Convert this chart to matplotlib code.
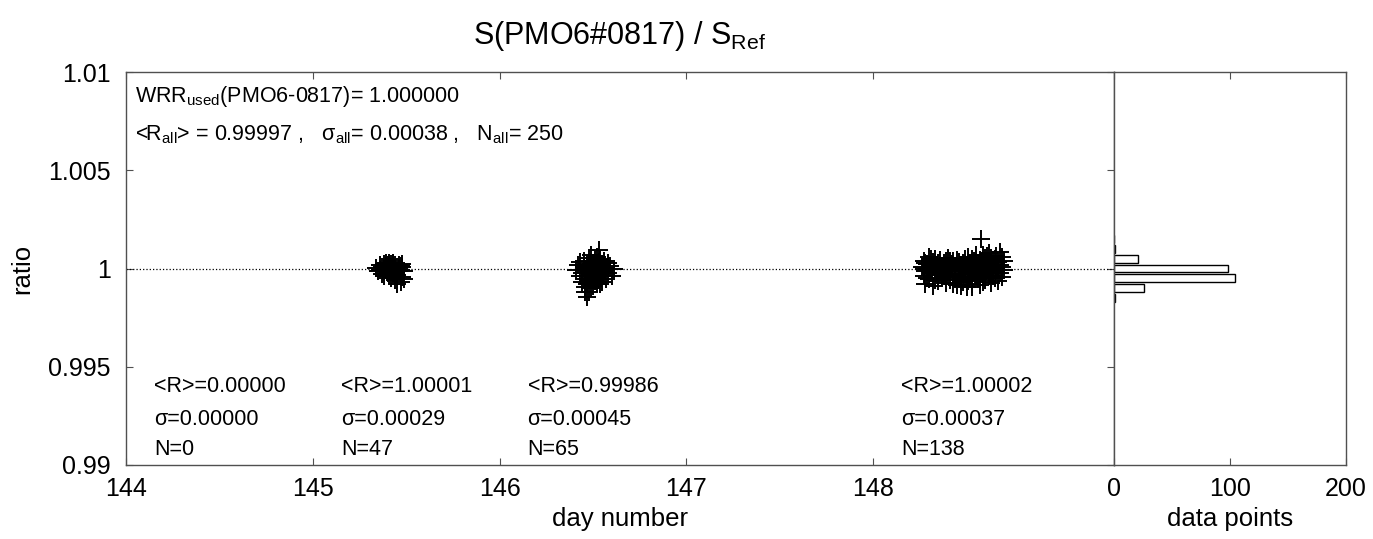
import matplotlib
matplotlib.use("Agg")
import matplotlib.pyplot as plt

plt.rcParams['font.family'] = ['Liberation Sans', 'DejaVu Sans']
plt.rcParams['mathtext.fontset'] = 'custom'
plt.rcParams['mathtext.rm'] = 'Liberation Sans'
plt.rcParams['mathtext.it'] = 'Liberation Sans'
plt.rcParams['mathtext.bf'] = 'Liberation Sans:bold'

# Puntos (dia, razon), una nube por cada dia
dia_145 = [
    (145.34, 1.00005), (145.35, 0.99985), (145.36, 1.00018), (145.36, 0.99992), (145.37, 1.00010), (145.37, 0.99970),
    (145.38, 1.00025), (145.38, 1.00002), (145.38, 0.99960), (145.39, 1.00015), (145.39, 0.99990), (145.39, 1.00028),
    (145.40, 1.00006), (145.40, 0.99978), (145.40, 1.00020), (145.40, 0.99995), (145.41, 1.00012), (145.41, 0.99965),
    (145.41, 1.00030), (145.41, 1.00000), (145.42, 0.99985), (145.42, 1.00022), (145.42, 0.99950), (145.42, 1.00008),
    (145.43, 1.00016), (145.43, 0.99975), (145.43, 1.00026), (145.43, 0.99995), (145.44, 1.00004), (145.44, 0.99940),
    (145.44, 1.00020), (145.45, 1.00010), (145.45, 0.99968), (145.45, 0.99920), (145.46, 1.00018), (145.46, 0.99985),
    (145.46, 1.00003), (145.47, 0.99930), (145.47, 1.00012), (145.47, 0.99990), (145.48, 1.00022), (145.48, 0.99958),
    (145.48, 1.00006), (145.49, 0.99985), (145.49, 0.99945), (145.43, 1.00030), (145.41, 1.00014),
]

dia_146 = [
    (146.41, 0.99990), (146.42, 1.00020), (146.43, 0.99960), (146.43, 1.00035), (146.44, 0.99975), (146.44, 0.99930),
    (146.45, 1.00010), (146.45, 0.99945), (146.45, 1.00040), (146.46, 0.99880), (146.46, 0.99990), (146.46, 0.99905),
    (146.47, 0.99855), (146.47, 1.00015), (146.47, 0.99960), (146.47, 0.99920), (146.48, 1.00055), (146.48, 0.99985),
    (146.48, 0.99940), (146.48, 0.99880), (146.49, 1.00025), (146.49, 0.99965), (146.49, 1.00070), (146.49, 0.99995),
    (146.50, 0.99950), (146.50, 1.00030), (146.50, 0.99910), (146.50, 1.00005), (146.51, 0.99970), (146.51, 1.00045),
    (146.51, 0.99935), (146.51, 0.99990), (146.52, 1.00060), (146.52, 0.99955), (146.52, 1.00015), (146.52, 0.99925),
    (146.53, 1.00094), (146.53, 0.99980), (146.53, 1.00035), (146.53, 0.99945), (146.54, 1.00010), (146.54, 0.99965),
    (146.54, 1.00050), (146.55, 0.99990), (146.55, 0.99930), (146.55, 1.00025), (146.56, 0.99960), (146.56, 1.00040),
    (146.56, 0.99985), (146.57, 1.00005), (146.57, 0.99945), (146.58, 1.00030), (146.58, 0.99975), (146.59, 1.00015),
    (146.60, 0.99960), (146.61, 0.99995), (146.46, 1.00000), (146.48, 1.00010), (146.50, 0.99985), (146.52, 0.99995),
    (146.54, 0.99920), (146.49, 0.99900), (146.51, 1.00020), (146.53, 1.00000), (146.47, 1.00025),
]

dia_148 = [
    (148.26, 1.00010), (148.27, 0.99960), (148.27, 1.00040), (148.28, 0.99985), (148.28, 0.99920), (148.29, 1.00025),
    (148.29, 0.99995), (148.30, 1.00060), (148.30, 0.99945), (148.31, 1.00015), (148.31, 0.99975), (148.32, 1.00035),
    (148.32, 0.99910), (148.33, 1.00000), (148.33, 1.00050), (148.34, 0.99965), (148.34, 1.00020), (148.35, 0.99935),
    (148.35, 1.00005), (148.36, 0.99980), (148.36, 1.00045), (148.37, 0.99950), (148.37, 1.00015), (148.38, 0.99990),
    (148.38, 1.00030), (148.39, 0.99925), (148.39, 1.00000), (148.40, 1.00055), (148.40, 0.99970), (148.41, 1.00010),
    (148.41, 0.99940), (148.42, 1.00025), (148.42, 0.99995), (148.43, 0.99960), (148.43, 1.00040), (148.44, 0.99985),
    (148.44, 1.00015), (148.45, 0.99915), (148.45, 1.00005), (148.46, 1.00035), (148.46, 0.99955), (148.47, 0.99990),
    (148.47, 1.00020), (148.48, 0.99930), (148.48, 1.00000), (148.49, 1.00050), (148.49, 0.99970), (148.50, 0.99905),
    (148.50, 1.00015), (148.51, 0.99985), (148.51, 1.00060), (148.52, 0.99950), (148.52, 1.00025), (148.53, 0.99995),
    (148.53, 0.99920), (148.54, 1.00040), (148.54, 0.99975), (148.55, 1.00005), (148.55, 1.00070), (148.56, 0.99945),
    (148.56, 1.00020), (148.57, 0.99990), (148.57, 0.99915), (148.58, 1.00150), (148.58, 1.00035), (148.59, 0.99965),
    (148.59, 1.00010), (148.60, 1.00055), (148.60, 0.99940), (148.61, 0.99995), (148.61, 1.00030), (148.62, 0.99960),
    (148.62, 1.00080), (148.63, 1.00015), (148.63, 0.99925), (148.64, 1.00045), (148.64, 0.99985), (148.65, 1.00020),
    (148.65, 0.99950), (148.66, 1.00065), (148.66, 1.00000), (148.67, 0.99935), (148.67, 1.00035), (148.68, 0.99975),
    (148.68, 1.00084), (148.69, 1.00010), (148.69, 0.99955), (148.70, 1.00040), (148.70, 0.99990), (148.27, 1.00000),
    (148.29, 0.99950), (148.31, 1.00050), (148.33, 0.99940), (148.35, 1.00030), (148.37, 0.99970), (148.39, 1.00040),
    (148.41, 1.00000), (148.43, 0.99920), (148.45, 1.00045), (148.47, 0.99945), (148.49, 1.00010), (148.51, 0.99935),
    (148.53, 1.00050), (148.55, 0.99960), (148.57, 1.00045), (148.59, 0.99930), (148.61, 1.00065), (148.63, 0.99980),
    (148.65, 1.00050), (148.67, 0.99990), (148.69, 1.00060), (148.28, 1.00030), (148.30, 0.99990), (148.32, 1.00010),
    (148.34, 0.99995), (148.36, 1.00005), (148.38, 0.99960), (148.40, 0.99990), (148.42, 1.00005), (148.44, 0.99945),
    (148.46, 1.00010), (148.48, 1.00030), (148.50, 0.99980), (148.52, 0.99990), (148.54, 1.00010), (148.56, 0.99985),
    (148.58, 0.99975), (148.60, 1.00000), (148.62, 1.00025), (148.64, 0.99960), (148.66, 0.99985), (148.68, 1.00020),
    (148.53, 0.99905), (148.47, 0.99910), (148.57, 0.99950), (148.63, 1.00055), (148.41, 1.00040), (148.59, 1.00070),
]

# Histograma de las razones (centro del bin, cuenta)
hist_centros = [1.0015, 1.0010, 1.0005, 1.0000, 0.9995, 0.9990, 0.9985]
hist_cuentas = [0, 1, 21, 98, 104, 26, 1]

# Estadisticas por dia
dias_inicio = [144, 145, 146, 148]
medias = ["0.00000", "1.00001", "0.99986", "1.00002"]
sigmas = ["0.00000", "0.00029", "0.00045", "0.00037"]
cuentas = [0, 47, 65, 138]

color_eje = "#505050"
fs_tick = 18
fs_label = 18.5
fs_texto = 15.5

fig = plt.figure(figsize=(13.73, 5.39), dpi=100)
ax = fig.add_axes([0.0918, 0.1373, 0.7196, 0.7291])
ax_h = fig.add_axes([0.8114, 0.1373, 0.1688, 0.7291])

# Nubes de puntos
for nube in [dia_145, dia_146, dia_148]:
    X = [p[0] for p in nube]
    Y = [p[1] for p in nube]
    ax.plot(X, Y, linestyle='none', marker='+', markersize=13, markeredgewidth=1.4, color='k')

ax.axhline(1.0, color='k', linestyle=':', linewidth=0.9)

ax.set_xlim(144, 149.29)
ax.set_ylim(0.99, 1.01)
ax.set_xticks([144, 145, 146, 147, 148])
ax.set_xticklabels(["144", "145", "146", "147", "148"])
ax.set_yticks([0.99, 0.995, 1.0, 1.005, 1.01])
ax.set_yticklabels(["0.99", "0.995", "1", "1.005", "1.01"])
ax.tick_params(direction='in', length=5, width=0.8, color=color_eje, labelsize=fs_tick,
               top=True, right=True)
ax.tick_params(axis='x', pad=9)
ax.tick_params(axis='y', pad=11)
ax.set_xlabel("day number", fontsize=fs_label, labelpad=4)
ax.set_ylabel("ratio", fontsize=fs_label, labelpad=10)
ax.set_title(r"S(PMO6#0817) / $\mathrm{S}_{\mathrm{Ref}}$", fontsize=22, pad=20, x=0.5)

# Textos generales
ax.text(144.05, 1.00873, r"WRR$_{\mathrm{used}}$(PMO6-0817)= 1.000000", fontsize=fs_texto, va='center')
ax.text(144.05, 1.00679, r"<R$_{\mathrm{all}}$> = 0.99997 ,   σ$_{\mathrm{all}}$= 0.00038 ,   N$_{\mathrm{all}}$= 250",
        fontsize=fs_texto, va='center')

# Estadisticas por dia
for d, m, s, n in zip(dias_inicio, medias, sigmas, cuentas):
    ax.text(d + 0.15, 0.99397, "<R>=" + m, fontsize=fs_texto, va='center')
    ax.text(d + 0.15, 0.99229, "σ=" + s, fontsize=fs_texto, va='center')
    ax.text(d + 0.15, 0.99081, "N=" + str(n), fontsize=fs_texto, va='center')

# Histograma horizontal
ax_h.barh(hist_centros, hist_cuentas, height=0.0004, color='white', edgecolor='k', linewidth=1.0)
ax_h.set_xlim(0, 200)
ax_h.set_ylim(0.99, 1.01)
ax_h.set_xticks([0, 100, 200])
ax_h.set_yticks([])
ax_h.tick_params(direction='in', length=5, width=0.8, color=color_eje, labelsize=fs_tick, top=True, pad=9)
ax_h.set_xlabel("data points", fontsize=fs_label, labelpad=4)

for a in [ax, ax_h]:
    for sp in a.spines.values():
        sp.set_color(color_eje)
        sp.set_linewidth(1.0)

fig.savefig("out.png", dpi=100)
